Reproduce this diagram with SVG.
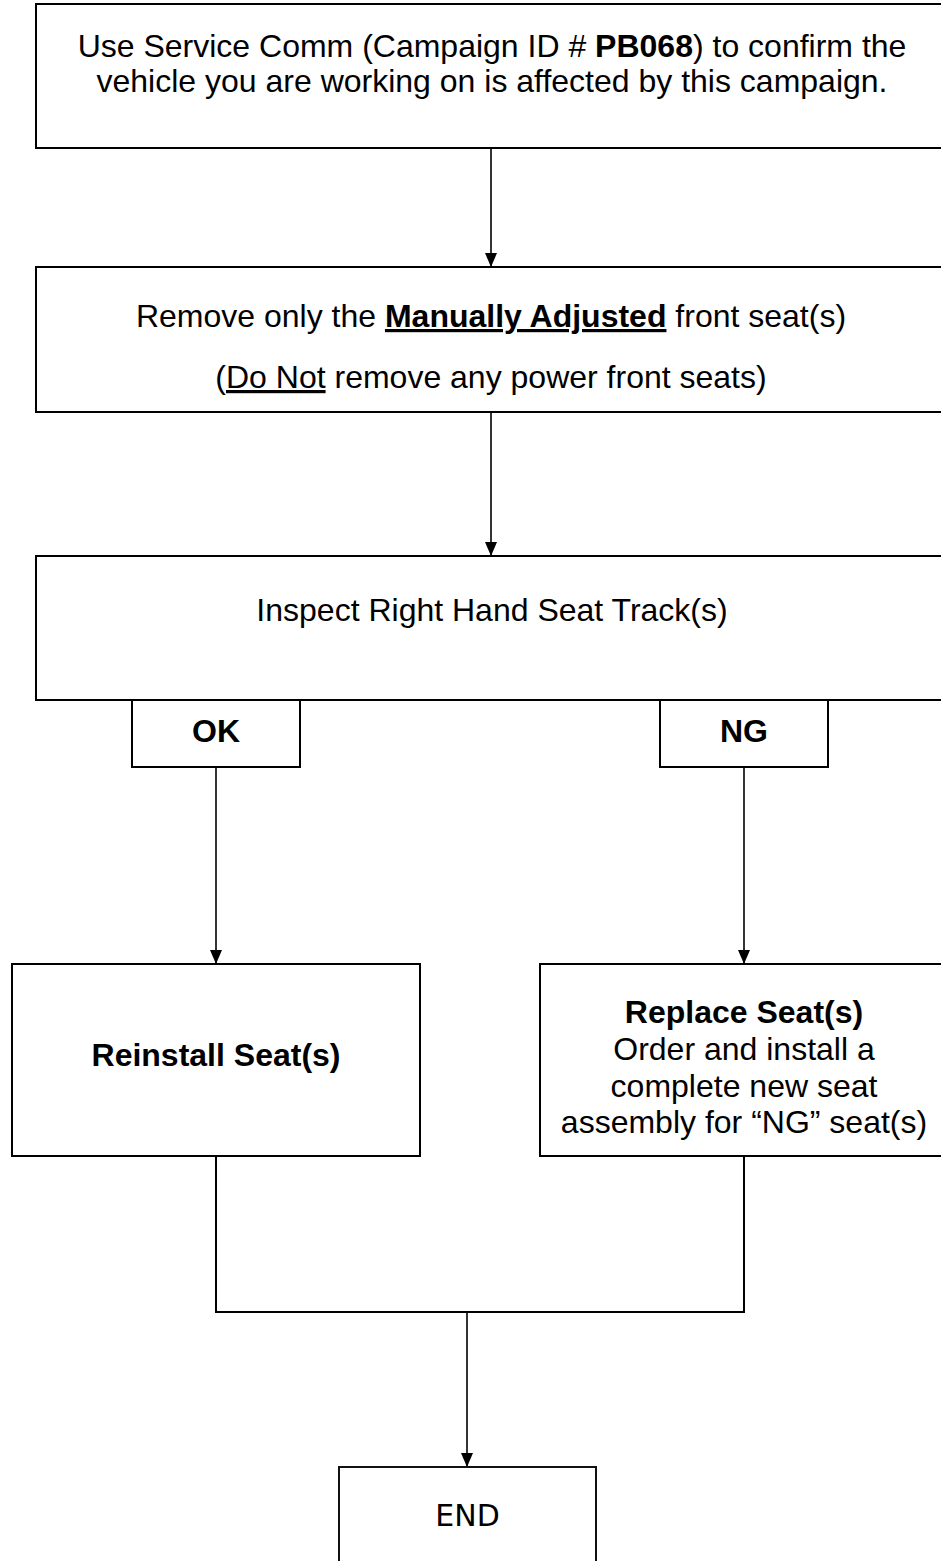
<svg xmlns="http://www.w3.org/2000/svg" width="941" height="1561" viewBox="0 0 941 1561">
  <style>
    .box { fill: #ffffff; stroke: #000000; stroke-width: 2; }
    .endbox { fill: #ffffff; stroke: #111111; stroke-width: 2; }
    .t { font-family: "Liberation Sans", Arial, sans-serif; font-size: 32px; fill: #000000; text-anchor: middle; }
    .b { font-weight: bold; }
    .u { text-decoration: underline; }
    .end { font-family: "DejaVu Sans", sans-serif; font-size: 30px; fill: #000000; text-anchor: middle; }
    .c { fill: none; stroke: #000000; stroke-width: 1.6; }
    .cm { fill: none; stroke: #000000; stroke-width: 2; }
  </style>
  <defs>
    <marker id="arrow" markerUnits="userSpaceOnUse" viewBox="0 0 14 12" refX="14" refY="6" markerWidth="14" markerHeight="12" orient="auto">
      <path d="M0,0 L14,6 L0,12 z" fill="#000000"/>
    </marker>
  </defs>
  <rect width="941" height="1561" fill="#ffffff"/>

  <g id="connectors">
    <line class="c" x1="491" y1="148" x2="491" y2="267" marker-end="url(#arrow)"/>
    <line class="c" x1="491" y1="412" x2="491" y2="556" marker-end="url(#arrow)"/>
    <line class="c" x1="216" y1="767" x2="216" y2="964" marker-end="url(#arrow)"/>
    <line class="c" x1="744" y1="767" x2="744" y2="964" marker-end="url(#arrow)"/>
    <polyline class="cm" points="216,1156 216,1312 744,1312 744,1156"/>
    <line class="c" x1="467" y1="1312" x2="467" y2="1467" marker-end="url(#arrow)"/>
  </g>

  <g id="node-confirm">
    <rect class="box" x="36" y="4" width="912" height="144"/>
    <text class="t" x="492" y="57">Use Service Comm (Campaign ID # <tspan class="b">PB068</tspan>) to confirm the</text>
    <text class="t" x="492" y="92">vehicle you are working on is affected by this campaign.</text>
  </g>

  <g id="node-remove">
    <rect class="box" x="36" y="267" width="912" height="145"/>
    <text class="t" x="491" y="327">Remove only the <tspan class="b u">Manually Adjusted</tspan> front seat(s)</text>
    <text class="t" x="491" y="388">(<tspan class="u">Do Not</tspan> remove any power front seats)</text>
  </g>

  <g id="node-inspect">
    <rect class="box" x="36" y="556" width="912" height="144"/>
    <text class="t" x="492" y="621">Inspect Right Hand Seat Track(s)</text>
  </g>

  <g id="node-ok">
    <rect class="box" x="132" y="700" width="168" height="67"/>
    <text class="t b" x="216" y="742">OK</text>
  </g>

  <g id="node-ng">
    <rect class="box" x="660" y="700" width="168" height="67"/>
    <text class="t b" x="744" y="742">NG</text>
  </g>

  <g id="node-reinstall">
    <rect class="box" x="12" y="964" width="408" height="192"/>
    <text class="t b" x="216" y="1066">Reinstall Seat(s)</text>
  </g>

  <g id="node-replace">
    <rect class="box" x="540" y="964" width="408" height="192"/>
    <text class="t b" x="744" y="1023">Replace Seat(s)</text>
    <text class="t" x="744" y="1060">Order and install a</text>
    <text class="t" x="744" y="1097">complete new seat</text>
    <text class="t" x="744" y="1133">assembly for “NG” seat(s)</text>
  </g>

  <g id="node-end">
    <rect class="endbox" x="339" y="1467" width="257" height="110"/>
    <text class="end" x="467.5" y="1526">END</text>
  </g>
</svg>
